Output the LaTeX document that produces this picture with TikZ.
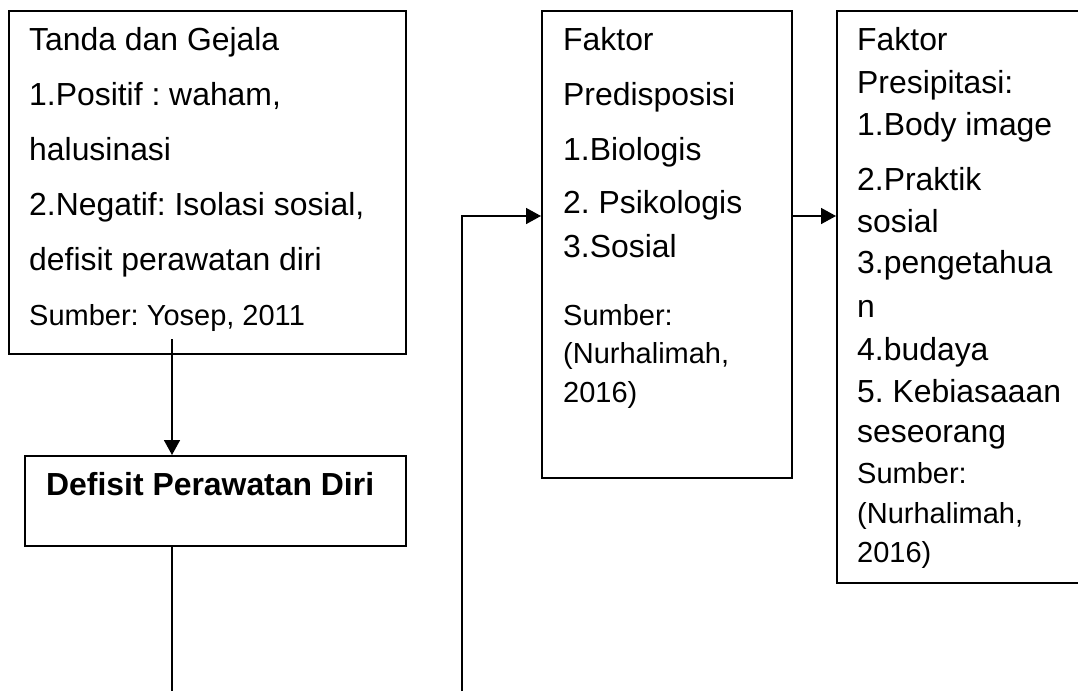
\documentclass[tikz,border=0pt]{standalone}
\usepackage{fontspec}
\setmainfont{Liberation Sans}
\usetikzlibrary{arrows.meta}
\frenchspacing
\newcommand\fmain{\fontsize{31.9}{38}\selectfont\frenchspacing}
\newcommand\fsrc{\fontsize{29}{35}\selectfont\frenchspacing}
\tikzset{
  box/.style={draw, line width=1.8pt, inner sep=0pt, anchor=north west},
  txt/.style={anchor=base west, inner sep=0pt, font=\fmain},
  src/.style={anchor=base west, inner sep=0pt, font=\fsrc},
  link/.style={line width=1.6pt},
  arr/.style={line width=1.6pt, -{Triangle[length=15pt,width=16pt]}}
}
\begin{document}
\begin{tikzpicture}[x=1pt,y=-1pt]
\clip (0,0) rectangle (1078,691);
\fill[white] (0,0) rectangle (1078,691);
% boxes
\node[box, minimum width=397pt, minimum height=343pt] (b1) at (8,10) {};
\node[box, minimum width=381pt, minimum height=90pt] (def) at (24,455) {};
\node[box, minimum width=250pt, minimum height=467pt] (pred) at (541,10) {};
\node[box, minimum width=260pt, minimum height=572pt] (pres) at (836,10) {};
% box 1 text
\node[txt] (t1a) at (29,50) {Tanda dan Gejala};
\node[txt] (t1b) at (29,105) {1.Positif : waham,};
\node[txt] (t1c) at (29,160) {halusinasi};
\node[txt] (t1d) at (29,215) {2.Negatif: Isolasi sosial,};
\node[txt] (t1e) at (29,270) {defisit perawatan diri};
\node[src] (t1f) at (29,325) {Sumber: Yosep, 2011};
% defisit
\node[txt, font=\fmain\bfseries] (tdef) at (46,495) {Defisit Perawatan Diri};
% predisposisi
\node[txt] (t2a) at (563,50) {Faktor};
\node[txt] (t2b) at (563,105) {Predisposisi};
\node[txt] (t2c) at (563,160) {1.Biologis};
\node[txt] (t2d) at (563,213) {2. Psikologis};
\node[txt] (t2e) at (563,257) {3.Sosial};
\node[src] (t2f) at (563,325) {Sumber:};
\node[src] (t2g) at (563,363) {(Nurhalimah,};
\node[src] (t2h) at (563,402) {2016)};
% presipitasi
\node[txt] (t3a) at (857,50) {Faktor};
\node[txt] (t3b) at (857,93) {Presipitasi:};
\node[txt] (t3c) at (857,135) {1.Body image};
\node[txt] (t3d) at (857,190) {2.Praktik};
\node[txt] (t3e) at (857,232) {sosial};
\node[txt] (t3f) at (857,273) {3.pengetahua};
\node[txt] (t3g) at (857,317) {n};
\node[txt] (t3h) at (857,360) {4.budaya};
\node[txt] (t3i) at (857,402) {5. Kebiasaaan};
\node[txt] (t3j) at (857,442) {seseorang};
\node[src] (t3k) at (857,483) {Sumber:};
\node[src] (t3l) at (857,523) {(Nurhalimah,};
\node[src] (t3m) at (857,562) {2016)};
% connectors
\coordinate (c1) at (172,339);
\coordinate (e1) at (172,691);
\coordinate (e2) at (462,691);
\coordinate (ya) at (0,216);
\draw[arr] (c1) -- (c1 |- def.north);
\draw[link] (c1 |- def.south) -- (e1);
\draw[arr] (e2) |- (pred.west |- ya);
\draw[arr] (pred.east |- ya) -- (pres.west |- ya);
\end{tikzpicture}
\end{document}
